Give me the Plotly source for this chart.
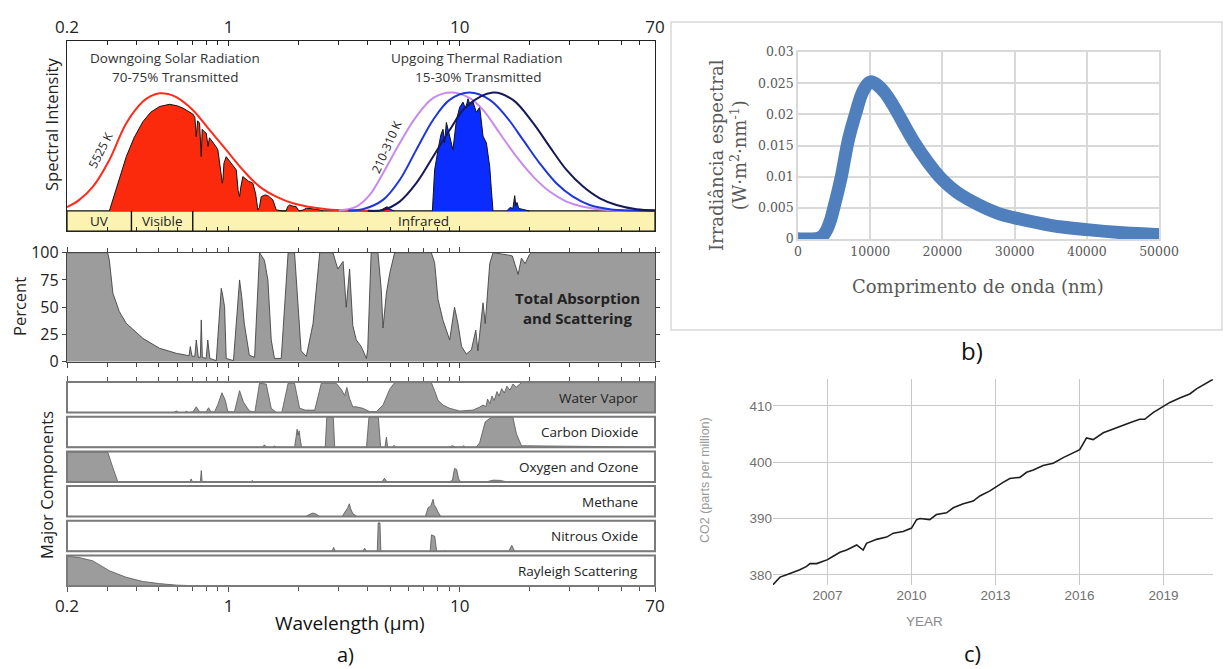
import numpy as np
import plotly.graph_objects as go

W, H = 1224, 669
def px(x): return x / W
def py(y): return 1 - y / H

# ---------------- Panel a data (wavelength in micrometres) ----------------
MAJOR_TICKS = [0.2, 1, 10, 70]
MAJOR_LABELS = ["0.2", "1", "10", "70"]
MINOR_TICKS = [0.3, 0.4, 0.5, 0.6, 0.7, 0.8, 0.9, 2, 3, 4, 5, 6, 7, 8, 9, 20, 30, 40, 50, 60]

BAND_EDGES = [0.2, 0.38, 0.7, 70]
BAND_LABELS = ["UV", "Visible", "Infrared"]

SOLAR_BB_WL = [0.2, 0.226, 0.259, 0.305, 0.361, 0.426, 0.46, 0.503, 0.55, 0.594, 0.700, 0.827, 0.977, 1.153, 1.362, 1.608, 1.90, 2.65, 3.69, 5.0]
SOLAR_BB_I = [2.2, 6.5, 14.3, 30.0, 51.6, 64.3, 67.5, 69.2, 68.7, 66.9, 59.4, 47.6, 35.9, 24.1, 14.3, 8.4, 4.5, 1.0, 0.3, 0.0]

SOLAR_WL = [0.305, 0.33, 0.361, 0.39, 0.426, 0.46, 0.503, 0.555, 0.60, 0.634, 0.67, 0.700, 0.715, 0.725, 0.735,
            0.749, 0.762, 0.769, 0.78, 0.801, 0.815, 0.827, 0.84, 0.855, 0.88, 0.899, 0.925, 0.94, 0.945, 0.955,
            0.977, 1.03, 1.08, 1.10, 1.116, 1.13, 1.153, 1.22, 1.274, 1.31, 1.339, 1.36, 1.385, 1.44, 1.48,
            1.555, 1.59, 1.608, 1.70, 1.777, 1.80, 1.837, 1.90, 1.963, 2.0, 2.03, 2.10, 2.17, 2.30, 2.40, 2.50, 2.56]
SOLAR_I = [0, 15, 31.9, 43, 52.5, 58, 61.4, 62.7, 61.8, 60.5, 58.5, 57.0, 55, 43.7, 53,
           51.6, 32, 48, 47, 45.7, 38, 43, 41.8, 40.5, 38, 35.9, 22, 16.3, 18, 28,
           31.9, 28, 24.1, 12, 8.4, 14, 20.2, 17.5, 16.3, 10, 0.6, 2, 8.4, 9.4, 9.0,
           6.5, 3, 0.6, 0, 0, 2.5, 3.5, 2.8, 2.5, 0.5, 0, 0.5, 1.6, 1.3, 1.0, 0.5, 0]

BB310_WL = [3.0, 3.57, 4.08, 4.66, 5.50, 6.49, 7.67, 9.2, 11.05, 12.62, 14.9, 17.6, 20.8, 24.5, 29.0, 34.2, 40.4, 47.7, 70]
BB310_I = [0.3, 2.5, 9.4, 22.2, 39.8, 55.5, 66.3, 69.6, 66.3, 59.4, 45.7, 31.9, 20.2, 11.4, 5.5, 2.5, 1.0, 0.2, 0.0]
BB260_WL = [3.3, 3.81, 4.66, 5.50, 6.49, 7.67, 9.05, 11.05, 13.49, 15.9, 18.8, 22.2, 26.2, 30.9, 36.5, 44.6, 56.3, 70]
BB260_I = [0.2, 1.0, 6.5, 18.2, 35.9, 53.5, 65.3, 69.6, 65.3, 55.5, 41.8, 28.0, 16.3, 8.4, 3.5, 1.0, 0.2, 0.0]
BB210_WL = [4.0, 4.66, 5.50, 6.49, 7.67, 9.05, 10.69, 13.94, 17.0, 20.8, 24.5, 29.0, 34.2, 40.4, 47.7, 58.2, 70]
BB210_I = [0.1, 0.6, 5.5, 16.3, 31.9, 47.6, 61.4, 69.6, 65.3, 51.6, 37.8, 24.1, 14.3, 7.4, 3.5, 1.0, 0.4]

THERM_WL = [7.62, 7.70, 7.79, 8.06, 8.30, 8.47, 8.60, 8.76, 9.05, 9.35, 9.67, 10.0, 10.34, 10.6, 10.87, 11.1,
            11.42, 11.81, 12.21, 12.62, 13.05, 13.49, 13.72, 13.94]
THERM_I = [0, 15, 24, 36, 45, 48, 40, 52, 44, 36, 53, 61, 64, 60, 66, 62, 64, 58, 61, 44, 40, 26, 12, 0]
THERM_B_WL = [4.5, 4.7, 4.85, 5.0, 5.2]
THERM_B_I = [0, 1.5, 2.5, 1.0, 0]
THERM_C_WL = [16.0, 16.5, 17.0, 17.3, 17.5, 17.7, 18.0, 18.5, 19.5, 20.0]
THERM_C_I = [0, 2, 1.5, 9, 3, 5, 1.5, 1, 0.5, 0]

TOT_WL = [0.2, 0.30, 0.305, 0.316, 0.337, 0.361, 0.426, 0.503, 0.594, 0.65, 0.675, 0.683, 0.695, 0.715, 0.725,
          0.74, 0.755, 0.762, 0.770, 0.80, 0.813, 0.83, 0.87, 0.885, 0.899, 0.93, 0.945, 0.961, 0.977, 1.05,
          1.116, 1.14, 1.17, 1.23, 1.296, 1.362, 1.43, 1.48, 1.53, 1.58, 1.69, 1.81, 1.93, 2.0, 2.06,
          2.17, 2.32, 2.48, 2.83, 2.97, 3.13, 3.23, 3.34, 3.45, 3.57, 3.75, 3.95, 4.0, 4.14, 4.43,
          4.58, 4.66, 4.82, 4.98, 5.23, 7.54, 7.79, 8.06, 8.47, 9.05, 9.5, 9.83, 10.19, 10.69, 11.24,
          11.74, 11.99, 12.62, 12.9, 13.49, 13.94, 16.1, 16.9, 17.9, 18.5, 19.2, 20.0, 20.5, 70]
TOT_PCT = [100, 100, 93, 62.7, 45.9, 35.2, 21.4, 12.3, 7.7, 6, 5.5, 13.8, 5, 5, 19.9,
           4, 4, 38.3, 4, 3, 19.9, 3, 1, 1, 23, 67.3, 60, 50.5, 3, 1,
           75, 60, 35, 6, 4, 100, 93, 75, 20, 3, 3, 100, 100, 50, 10,
           5, 35, 100, 100, 85, 92, 50, 85, 33, 20, 14, 3, 11, 100, 100,
           66, 31, 63, 81, 100, 100, 91, 57, 38, 20, 50, 35, 14, 7, 11,
           29, 10, 54, 35, 90, 100, 98, 97, 80, 95, 90, 98, 100, 100]

WV_WL = [0.2, 0.58, 0.594, 0.61, 0.65, 0.656, 0.67, 0.70, 0.725, 0.75, 0.80, 0.819, 0.84, 0.87, 0.899,
         0.936, 0.968, 0.993, 1.06, 1.116, 1.16, 1.23, 1.30, 1.362, 1.456, 1.53, 1.61, 1.70, 1.81, 1.93,
         2.03, 2.15, 2.36, 2.52, 2.92, 3.07, 3.18, 3.25, 3.34, 3.45, 3.57, 3.81, 4.08, 4.36, 4.66,
         4.98, 5.23, 7.54, 7.79, 8.06, 8.47, 9.05, 10.0, 11.42, 12.2, 12.62, 13.0, 13.2, 13.5, 13.8,
         14.1, 14.5, 14.8, 15.2, 15.6, 16.0, 16.5, 17.0, 17.6, 18.5, 70]
WV_VAL = [0, 0, 0.05, 0, 0, 0.05, 0, 0.02, 0.19, 0.02, 0.02, 0.16, 0.02, 0.02, 0.27,
          0.66, 0.41, 0.03, 0.02, 0.73, 0.35, 0.05, 0.02, 0.98, 0.95, 0.14, 0, 0, 0.98, 0.98,
          0.14, 0.08, 0.08, 0.98, 0.98, 0.78, 0.57, 0.84, 0.46, 0.19, 0.19, 0.14, 0.03, 0.03, 0.25,
          0.78, 1, 1, 0.73, 0.41, 0.25, 0.14, 0.05, 0.08, 0.18, 0.25, 0.2, 0.45, 0.3, 0.55,
          0.4, 0.7, 0.55, 0.8, 0.65, 0.88, 0.75, 0.95, 0.85, 1, 1]

CO2_WL = [0.2, 1.40, 1.43, 1.46, 1.55, 1.58, 1.61, 1.93, 1.96, 1.98, 2.00, 2.02, 2.04, 2.07, 2.62, 2.66, 2.84,
          2.88, 3.95, 4.05, 4.45, 4.55, 4.75, 4.82, 4.88, 5.1, 5.2, 5.3, 9.0, 9.3, 9.6, 10.2, 10.4, 10.6,
          11.8, 12.2, 12.9, 13.7, 17.0, 17.6, 18.5, 70]
CO2_VAL = [0, 0, 0.08, 0, 0, 0.04, 0, 0, 0.35, 0.6, 0.4, 0.55, 0.3, 0, 0, 1, 1,
           0, 0, 1, 1, 0, 0, 0.34, 0, 0, 0.06, 0, 0, 0.05, 0, 0, 0.05, 0,
           0, 0.15, 0.85, 1, 1, 0.45, 0.05, 0]

O3_WL = [0.2, 0.30, 0.315, 0.332, 0.68, 0.689, 0.698, 0.755, 0.762, 0.769, 1.25, 1.266, 1.28, 4.6,
         4.73, 4.85, 9.0, 9.3, 9.5, 9.7, 9.9, 10.1, 13.0, 14.0, 15.0, 16.0, 70]
O3_VAL = [1, 1, 0.5, 0, 0, 0.1, 0, 0, 0.38, 0, 0, 0.05, 0, 0,
          0.12, 0, 0, 0.05, 0.45, 0.42, 0.1, 0, 0, 0.06, 0.05, 0, 0]

CH4_WL = [0.2, 2.15, 2.25, 2.32, 2.40, 2.48, 3.1, 3.2, 3.28, 3.33, 3.38, 3.45, 3.6, 7.1, 7.3, 7.5,
          7.6, 7.67, 7.75, 7.9, 8.1, 8.3, 70]
CH4_VAL = [0, 0, 0.08, 0.12, 0.08, 0, 0, 0.15, 0.3, 0.43, 0.25, 0.1, 0, 0, 0.3, 0.35,
           0.5, 0.58, 0.4, 0.3, 0.12, 0, 0]

N2O_WL = [0.2, 2.80, 2.85, 2.90, 3.80, 3.88, 3.96, 4.40, 4.44, 4.52, 4.56, 7.45, 7.55, 7.8, 7.95,
          8.5, 8.6, 8.7, 16.3, 16.8, 17.3, 70]
N2O_VAL = [0, 0, 0.13, 0, 0, 0.1, 0, 0, 0.95, 0.95, 0, 0, 0.55, 0.5, 0,
           0, 0.03, 0, 0, 0.2, 0, 0]

RAY_WL = [0.2, 0.21, 0.226, 0.259, 0.305, 0.361, 0.426, 0.503, 0.594, 0.70, 0.85, 1.0, 70]
RAY_VAL = [1.0, 0.99, 0.95, 0.84, 0.51, 0.29, 0.15, 0.08, 0.03, 0.01, 0.003, 0, 0]

STRIP_NAMES = ["Water Vapor", "Carbon Dioxide", "Oxygen and Ozone", "Methane", "Nitrous Oxide", "Rayleigh Scattering"]

# ---------------- Panel b data ----------------
B_WL_NM = [0, 1000, 2000, 3000, 3500, 4000, 4500, 5000, 5500, 6000, 7000, 8000, 9000, 10000, 11000, 12000,
           13000, 14000, 15000, 16000, 18000, 20000, 22000, 25000, 28000, 30000, 35000, 40000, 45000, 50000]
B_IRR = [0, 0, 0, 0.0002, 0.0006, 0.0015, 0.003, 0.0052, 0.0075, 0.010, 0.016, 0.0202, 0.0237, 0.0252,
         0.0247, 0.0235, 0.0218, 0.0198, 0.0177, 0.0157, 0.0123, 0.0095, 0.0075, 0.0055, 0.0040, 0.0034,
         0.0022, 0.0015, 0.0010, 0.0007]
B_XTICKS = [0, 10000, 20000, 30000, 40000, 50000]
B_YTICKS = [0, 0.005, 0.01, 0.015, 0.02, 0.025, 0.03]
B_YTEXT = ["0", "0.005", "0.01", "0.015", "0.02", "0.025", "0.03"]

# ---------------- Panel c data ----------------
CO2_YEAR = [2005.04, 2005.30, 2005.54, 2005.71, 2006.01, 2006.25, 2006.37, 2006.61, 2007.0, 2007.20,
            2007.44, 2007.68, 2008.04, 2008.27, 2008.39, 2008.75, 2009.11, 2009.35, 2009.70, 2010.0,
            2010.18, 2010.30, 2010.65, 2010.89, 2011.25, 2011.49, 2011.85, 2012.20, 2012.44, 2012.80,
            2013.04, 2013.27, 2013.51, 2013.87, 2014.11, 2014.35, 2014.70, 2015.06, 2015.42, 2015.65,
            2016.01, 2016.25, 2016.49, 2016.85, 2017.20, 2017.44, 2017.80, 2018.15, 2018.33, 2018.63,
            2019.0, 2019.23, 2019.58, 2019.94, 2020.18, 2020.54, 2020.77]
CO2_PPM = [378.2, 379.6, 380.0, 380.3, 380.9, 381.5, 382.0, 382.0, 382.7, 383.3,
           384.0, 384.4, 385.3, 384.4, 385.6, 386.3, 386.7, 387.4, 387.7, 388.3,
           389.8, 390.0, 389.8, 390.7, 391.0, 391.9, 392.6, 393.1, 394.0, 394.9,
           395.7, 396.4, 397.1, 397.3, 398.2, 398.6, 399.4, 399.8, 400.8, 401.4,
           402.2, 404.3, 404.0, 405.2, 405.9, 406.3, 407.0, 407.6, 407.6, 408.8,
           410.0, 410.6, 411.4, 412.1, 413.0, 414.0, 414.7]
C_XTICKS = [2007, 2010, 2013, 2016, 2019]
C_YTICKS = [380, 390, 400, 410]

for a, b in [(SOLAR_BB_WL, SOLAR_BB_I), (SOLAR_WL, SOLAR_I), (BB310_WL, BB310_I), (BB260_WL, BB260_I),
             (BB210_WL, BB210_I), (THERM_WL, THERM_I), (TOT_WL, TOT_PCT), (WV_WL, WV_VAL), (CO2_WL, CO2_VAL),
             (O3_WL, O3_VAL), (CH4_WL, CH4_VAL), (N2O_WL, N2O_VAL), (RAY_WL, RAY_VAL), (B_WL_NM, B_IRR),
             (CO2_YEAR, CO2_PPM)]:
    assert len(a) == len(b), (len(a), len(b))

# ---------------- Figure ----------------
FONT_A = "Open Sans"
fig = go.Figure()
YMIN = -11.8
LOGR = [np.log10(0.2), np.log10(70)]
XD = [px(67), px(655)]

XB, YB = "x11", "y11"   # panel b
XC, YC = "x12", "y12"   # panel c
STRIP_Y = [f"y{3 + i}" for i in range(6)]  # y3..y8

# spectral band
fig.add_trace(go.Scatter(x=[BAND_EDGES[0], BAND_EDGES[-1], BAND_EDGES[-1], BAND_EDGES[0], BAND_EDGES[0]],
                         y=[YMIN, YMIN, 0, 0, YMIN], fill="toself", fillcolor="#fcf3b2",
                         line=dict(color="#111", width=1.2), mode="lines", xaxis="x", yaxis="y"))
for e in BAND_EDGES[1:-1]:
    fig.add_trace(go.Scatter(x=[e, e], y=[YMIN, 0], mode="lines", line=dict(color="#111", width=1.4),
                             xaxis="x", yaxis="y"))

fig.add_trace(go.Scatter(x=SOLAR_WL, y=SOLAR_I, fill="tozeroy", fillcolor="#fb2a0c", mode="lines",
                         line=dict(color="#111", width=1), xaxis="x", yaxis="y"))
for wl, val in [(THERM_WL, THERM_I), (THERM_B_WL, THERM_B_I), (THERM_C_WL, THERM_C_I)]:
    fig.add_trace(go.Scatter(x=wl, y=val, fill="tozeroy", fillcolor="#0a2cff", mode="lines",
                             line=dict(color="#111", width=1), xaxis="x", yaxis="y"))
fig.add_trace(go.Scatter(x=SOLAR_BB_WL, y=SOLAR_BB_I, mode="lines", line=dict(color="#ff2a1a", width=2, shape="spline"),
                         xaxis="x", yaxis="y"))
for wl, val, col in [(BB310_WL, BB310_I, "#c98aec"), (BB260_WL, BB260_I, "#1f35e0"), (BB210_WL, BB210_I, "#15195a")]:
    fig.add_trace(go.Scatter(x=wl, y=val, mode="lines", line=dict(color=col, width=2, shape="spline"),
                             xaxis="x", yaxis="y"))

# total absorption
fig.add_trace(go.Scatter(x=TOT_WL, y=TOT_PCT, fill="tozeroy", fillcolor="#9c9c9c", mode="lines",
                         line=dict(color="#444", width=0.9), xaxis="x2", yaxis="y2"))

# strips
STRIP_DATA = [(WV_WL, WV_VAL), (CO2_WL, CO2_VAL), (O3_WL, O3_VAL), (CH4_WL, CH4_VAL), (N2O_WL, N2O_VAL), (RAY_WL, RAY_VAL)]
strip_tops = [382 + i * 34.7 for i in range(6)]
strip_h = 30.5
for i, (wl, val) in enumerate(STRIP_DATA):
    fig.add_trace(go.Scatter(x=wl, y=val, fill="tozeroy", fillcolor="#9c9c9c", mode="lines",
                             line=dict(color="#555", width=0.8), xaxis=f"x{3 + i}", yaxis=STRIP_Y[i]))

# panel b
fig.add_trace(go.Scatter(x=B_WL_NM, y=B_IRR, mode="lines", line=dict(color="#4f7fbc", width=13, shape="spline"),
                         xaxis=XB, yaxis=YB))
fig.add_trace(go.Scatter(x=[B_WL_NM[0], B_WL_NM[-1]], y=[B_IRR[0], B_IRR[-1]], mode="markers",
                         marker=dict(color="#4f7fbc", size=13), xaxis=XB, yaxis=YB))

# panel c
fig.add_trace(go.Scatter(x=CO2_YEAR, y=CO2_PPM, mode="lines", line=dict(color="#1e1e1e", width=1.6),
                         xaxis=XC, yaxis=YC))

layout = dict(
    width=W, height=H, margin=dict(l=0, r=0, t=0, b=0), template="none", showlegend=False,
    paper_bgcolor="white", plot_bgcolor="white", font=dict(family=FONT_A, color="#222"),
)

def log_axis(ticks, **kw):
    d = dict(type="log", range=LOGR, domain=XD, tickmode="array", tickvals=MAJOR_TICKS, ticktext=MAJOR_LABELS,
             tickangle=0, showgrid=False, zeroline=False, automargin=False, ticks=ticks, ticklen=5)
    if ticks:
        d["minor"] = dict(tickmode="array", tickvals=MINOR_TICKS, ticks=ticks, ticklen=4, showgrid=False,
                          tickcolor=kw.get("tickcolor", "#444"))
    d.update(kw)
    return d

layout["xaxis"] = log_axis("inside", anchor="y", side="top", tickcolor="#222",
                           showline=True, linecolor="#222", linewidth=1.4, mirror="ticks",
                           tickfont=dict(size=17, color="#222"))
layout["yaxis"] = dict(domain=[py(231), py(40.7)], range=[YMIN, 100.1], anchor="x", showticklabels=False,
                       ticks="", showline=True, linecolor="#222", linewidth=1.4, mirror=True,
                       showgrid=False, zeroline=False, automargin=False)
layout["xaxis2"] = log_axis("outside", anchor="y2", tickcolor="#444", showticklabels=False,
                            showline=True, linecolor="#444", linewidth=1.4, mirror="ticks")
layout["yaxis2"] = dict(domain=[py(361.7), py(252.7)], range=[0, 100], anchor="x2", tickvals=[0, 25, 50, 75, 100],
                        ticks="outside", ticklen=4, tickcolor="#444", tickfont=dict(size=16, color="#222"),
                        showline=True, linecolor="#444", linewidth=1.4, mirror="ticks",
                        showgrid=False, zeroline=False, automargin=False)
shapes = []
annotations = []
for i in range(6):
    top = strip_tops[i]
    bot = top + strip_h
    if i == 0:
        xa = log_axis("outside", anchor=STRIP_Y[i], side="top", showticklabels=False, tickcolor="#555", showline=False)
    elif i == 5:
        xa = log_axis("outside", anchor=STRIP_Y[i], side="bottom", showticklabels=True, tickcolor="#555",
                      showline=False, tickfont=dict(size=17, color="#222"))
    else:
        xa = log_axis("", anchor=STRIP_Y[i], showticklabels=False, showline=False)
    layout[f"xaxis{3 + i}"] = xa
    layout[f"yaxis{3 + i}"] = dict(domain=[py(bot), py(top)], range=[0, 1.02], anchor=f"x{3 + i}",
                                   showticklabels=False, ticks="", showline=False, showgrid=False,
                                   zeroline=False, automargin=False)
    shapes.append(dict(type="rect", xref="paper", yref="paper", x0=XD[0], x1=XD[1], y0=py(bot), y1=py(top),
                       line=dict(color="#7a7a7a", width=2)))
    annotations.append(dict(text=STRIP_NAMES[i], xref="paper", yref="paper", x=px(640), y=py(top + 15.5),
                            xanchor="right", yanchor="middle", showarrow=False,
                            font=dict(size=13.5, color="#222", family=FONT_A)))

# panel b axes
SERIF = "DejaVu Serif"
layout["xaxis11"] = dict(domain=[px(798), px(1159)], range=[0, 50000], anchor=YB, tickvals=B_XTICKS,
                         tickformat="d", ticks="", showgrid=True, gridcolor="#d9d9d9", gridwidth=1.5,
                         showline=True, linecolor="#d9d9d9", linewidth=1.5, mirror=True, zeroline=False,
                         tickfont=dict(family=SERIF, size=12.5, color="#595959"), automargin=False)
layout["yaxis11"] = dict(domain=[py(239), py(52)], range=[0, 0.03], anchor=XB, tickvals=B_YTICKS, ticktext=B_YTEXT,
                         ticks="", showgrid=True, gridcolor="#d9d9d9", gridwidth=1.5,
                         showline=True, linecolor="#d9d9d9", linewidth=1.5, mirror=True, zeroline=False,
                         tickfont=dict(family=SERIF, size=12.5, color="#595959"), automargin=False)
shapes.append(dict(type="rect", xref="paper", yref="paper", x0=px(671), x1=px(1222), y0=py(330), y1=py(22),
                   line=dict(color="#d9d9d9", width=1.5)))

# panel c axes
SANS = "Liberation Sans"
layout["xaxis12"] = dict(domain=[px(773), px(1213)], range=[2005.05, 2020.77], anchor=YC, tickvals=C_XTICKS,
                         ticktext=[str(v) for v in C_XTICKS], ticks="", showgrid=True, gridcolor="#c8c8c8",
                         gridwidth=1, showline=False, zeroline=False,
                         tickfont=dict(family=SANS, size=13.5, color="#707070"), automargin=False)
layout["yaxis12"] = dict(domain=[py(585), py(379.3)], range=[378.2, 414.7], anchor=XC, tickvals=C_YTICKS,
                         ticks="", showgrid=True, gridcolor="#c8c8c8", gridwidth=1, showline=False, zeroline=False,
                         tickfont=dict(family=SANS, size=13.5, color="#707070"), automargin=False)

def ann(text, x, y, size, color="#222", family=FONT_A, angle=0, xanchor="center", bold=False):
    if bold:
        text = f"<b>{text}</b>"
    annotations.append(dict(text=text, xref="paper", yref="paper", x=px(x), y=py(y), xanchor=xanchor,
                            yanchor="middle", showarrow=False, textangle=angle,
                            font=dict(size=size, color=color, family=family)))

ann("Downgoing Solar Radiation", 175, 58, 13.5, "#333")
ann("70-75% Transmitted", 175, 77, 13.5, "#333")
ann("Upgoing Thermal Radiation", 476, 58, 13.5, "#333")
ann("15-30% Transmitted", 478, 77, 13.5, "#333")
ann("5525 K", 100, 150, 12, "#222", angle=-63)
ann("210-310 K", 387, 147, 12, "#222", angle=-66)
ann("Spectral Intensity", 51, 125, 16.5, "#222", angle=-90)
ann("Percent", 19, 307, 16.5, "#222", angle=-90)
ann("Major Components", 46, 485, 16.5, "#222", angle=-90)
ann("Total Absorption", 577, 298, 15, "#222", bold=True)
ann("and Scattering", 577, 318, 15, "#222", bold=True)
ann("Wavelength (\u00b5m)", 350, 623, 19, "#111")
ann("a)", 345, 654, 20, "#111")
for i, lab in enumerate(BAND_LABELS):
    lo, hi = BAND_EDGES[i], BAND_EDGES[i + 1]
    annotations.append(dict(text=lab, xref="x", yref="y", x=np.log10(np.sqrt(lo * hi)), y=YMIN / 2,
                            xanchor="center", yanchor="middle", showarrow=False,
                            font=dict(size=13.5, color="#222", family=FONT_A)))

ann("Irradi\u00e2ncia espectral<br>(W\u00b7m<sup>2</sup>\u00b7nm<sup>-1</sup>)", 728, 155, 18, "#595959", family=SERIF, angle=-90)
ann("Comprimento de onda (nm)", 978, 286, 18, "#595959", family=SERIF)
ann("b)", 972, 350, 24, "#111")
ann("YEAR", 924, 621, 13.5, "#8a8a8a", family=SANS)
ann("CO2 (parts per million)", 705, 480, 12.5, "#9a9a9a", family=SANS, angle=-90)
ann("c)", 972, 653, 22, "#111")

layout["shapes"] = shapes
layout["annotations"] = annotations
fig.update_layout(**layout)
fig.write_html("out.html")
